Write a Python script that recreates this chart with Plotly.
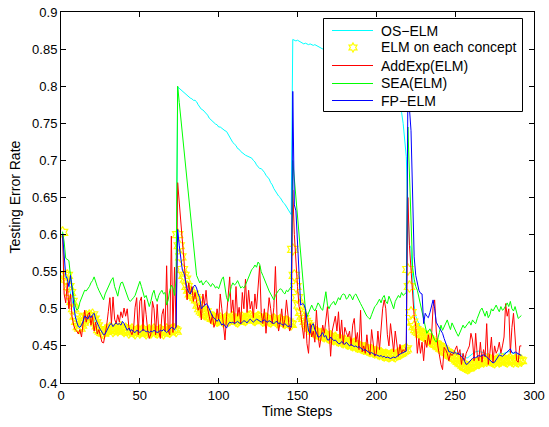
import math
import plotly.graph_objects as go

# concept start steps
concept_starts = [1, 74, 147, 220]

# OS-ELM (cyan)
os_elm_c1 = [0.602, 0.548, 0.541, 0.543, 0.531, 0.520, 0.511, 0.501, 0.491, 0.482,
             0.477, 0.475, 0.479, 0.483, 0.487, 0.489, 0.488, 0.490, 0.488, 0.491,
             0.485, 0.480, 0.476, 0.473, 0.471, 0.469, 0.468, 0.469, 0.471, 0.472,
             0.473, 0.472, 0.471, 0.471, 0.473, 0.472, 0.472, 0.474, 0.473, 0.471,
             0.472, 0.470, 0.469, 0.470, 0.471, 0.470, 0.468, 0.469, 0.470, 0.469,
             0.470, 0.471, 0.470, 0.468, 0.469, 0.470, 0.469, 0.470, 0.471, 0.470,
             0.469, 0.470, 0.470, 0.469, 0.468, 0.469, 0.471, 0.470, 0.470, 0.471,
             0.472, 0.471, 0.471]
os_elm_c2 = [0.799, 0.797, 0.795, 0.794, 0.791, 0.789, 0.788, 0.785, 0.784, 0.783,
             0.781, 0.781, 0.779, 0.775, 0.771, 0.769, 0.768, 0.766, 0.763, 0.761,
             0.757, 0.755, 0.752, 0.751, 0.749, 0.748, 0.745, 0.745, 0.743, 0.742,
             0.740, 0.739, 0.735, 0.731, 0.727, 0.724, 0.722, 0.720, 0.716, 0.715,
             0.712, 0.710, 0.709, 0.707, 0.706, 0.705, 0.705, 0.703, 0.700, 0.698,
             0.694, 0.692, 0.689, 0.689, 0.687, 0.684, 0.680, 0.677, 0.675, 0.670,
             0.667, 0.662, 0.658, 0.656, 0.652, 0.650, 0.646, 0.643, 0.641, 0.637,
             0.634, 0.630, 0.627]
os_elm_c3 = [0.863, 0.862, 0.861, 0.862, 0.861, 0.860, 0.858, 0.857, 0.858, 0.857,
             0.856, 0.857, 0.856, 0.855, 0.856, 0.855, 0.853, 0.852, 0.851, 0.850,
             0.849, 0.847, 0.846, 0.845, 0.843, 0.842, 0.840, 0.839, 0.838, 0.836,
             0.835, 0.833, 0.832, 0.830, 0.829, 0.828, 0.826, 0.825, 0.823, 0.822,
             0.820, 0.819, 0.817, 0.816, 0.814, 0.813, 0.811, 0.810, 0.808, 0.807,
             0.805, 0.804, 0.802, 0.801, 0.799, 0.798, 0.796, 0.795, 0.793, 0.792,
             0.790, 0.789, 0.787, 0.786, 0.784, 0.782, 0.780, 0.777, 0.772, 0.765,
             0.750, 0.730, 0.705]
os_elm_c4 = [0.640, 0.586, 0.582, 0.540, 0.505, 0.490, 0.485, 0.480, 0.476, 0.470,
             0.470, 0.466, 0.465, 0.463, 0.462, 0.461, 0.460, 0.458, 0.456, 0.455,
             0.453, 0.451, 0.450, 0.448, 0.446, 0.445, 0.444, 0.444, 0.445, 0.443,
             0.442, 0.441, 0.441, 0.440, 0.439, 0.438, 0.436, 0.434, 0.434, 0.436,
             0.438, 0.440, 0.441, 0.442, 0.443, 0.443, 0.442, 0.442, 0.441, 0.440,
             0.439, 0.437, 0.436, 0.435, 0.434, 0.434, 0.436, 0.438, 0.440, 0.440,
             0.439, 0.440, 0.441, 0.442, 0.443, 0.443, 0.441, 0.440, 0.440, 0.439,
             0.439, 0.438, 0.438]

# ELM on each concept (yellow stars)
elm_c1 = [0.603, 0.545, 0.540, 0.545, 0.530, 0.522, 0.510, 0.500, 0.490, 0.483,
          0.476, 0.474, 0.478, 0.482, 0.488, 0.490, 0.487, 0.491, 0.489, 0.492,
          0.486, 0.481, 0.477, 0.472, 0.470, 0.468, 0.467, 0.470, 0.472, 0.471,
          0.474, 0.473, 0.470, 0.472, 0.474, 0.471, 0.473, 0.475, 0.472, 0.470,
          0.473, 0.471, 0.468, 0.470, 0.472, 0.469, 0.467, 0.470, 0.471, 0.468,
          0.470, 0.472, 0.469, 0.467, 0.469, 0.471, 0.468, 0.470, 0.472, 0.469,
          0.468, 0.470, 0.471, 0.469, 0.467, 0.470, 0.472, 0.470, 0.469, 0.471,
          0.473, 0.472, 0.470]
elm_c2 = [0.600, 0.585, 0.570, 0.553, 0.545, 0.540, 0.530, 0.525, 0.520, 0.518,
          0.520, 0.515, 0.512, 0.505, 0.500, 0.497, 0.495, 0.493, 0.496, 0.492,
          0.490, 0.489, 0.487, 0.488, 0.486, 0.484, 0.485, 0.487, 0.485, 0.483,
          0.486, 0.488, 0.484, 0.485, 0.487, 0.489, 0.486, 0.484, 0.483, 0.485,
          0.487, 0.488, 0.486, 0.485, 0.487, 0.489, 0.490, 0.488, 0.486, 0.485,
          0.487, 0.489, 0.488, 0.486, 0.484, 0.485, 0.487, 0.486, 0.484, 0.483,
          0.485, 0.486, 0.484, 0.482, 0.483, 0.485, 0.484, 0.482, 0.481, 0.483,
          0.482, 0.480, 0.479]
elm_c3 = [0.580, 0.545, 0.530, 0.515, 0.505, 0.495, 0.490, 0.487, 0.483, 0.480,
          0.477, 0.474, 0.472, 0.470, 0.469, 0.467, 0.466, 0.465, 0.466, 0.464,
          0.463, 0.465, 0.462, 0.461, 0.463, 0.460, 0.459, 0.461, 0.458, 0.457,
          0.459, 0.456, 0.455, 0.457, 0.454, 0.453, 0.455, 0.452, 0.451, 0.453,
          0.450, 0.449, 0.450, 0.448, 0.447, 0.446, 0.447, 0.445, 0.444, 0.443,
          0.444, 0.442, 0.441, 0.442, 0.440, 0.439, 0.440, 0.438, 0.437, 0.438,
          0.437, 0.436, 0.437, 0.438, 0.437, 0.436, 0.438, 0.439, 0.440, 0.441,
          0.443, 0.444, 0.446]
elm_c4 = [0.553, 0.530, 0.495, 0.482, 0.476, 0.472, 0.470, 0.468, 0.466, 0.465,
          0.466, 0.463, 0.462, 0.460, 0.458, 0.456, 0.455, 0.453, 0.452, 0.450,
          0.449, 0.447, 0.446, 0.444, 0.442, 0.441, 0.439, 0.437, 0.436, 0.434,
          0.433, 0.431, 0.429, 0.427, 0.426, 0.424, 0.422, 0.421, 0.420, 0.421,
          0.423, 0.425, 0.424, 0.426, 0.428, 0.427, 0.429, 0.430, 0.429, 0.431,
          0.430, 0.432, 0.431, 0.430, 0.429, 0.428, 0.430, 0.431, 0.429, 0.430,
          0.432, 0.431, 0.430, 0.429, 0.431, 0.432, 0.430, 0.429, 0.431, 0.430,
          0.429, 0.431, 0.430]

# AddExp(ELM) (red)
addexp_c1 = [0.600, 0.520, 0.508, 0.535, 0.500, 0.520, 0.490, 0.478, 0.472, 0.470,
             0.466, 0.472, 0.462, 0.480, 0.498, 0.482, 0.492, 0.495, 0.478, 0.490,
             0.470, 0.482, 0.466, 0.472, 0.462, 0.455, 0.454, 0.466, 0.478, 0.496,
             0.515, 0.480, 0.516, 0.486, 0.480, 0.492, 0.482, 0.496, 0.488, 0.501,
             0.490, 0.500, 0.476, 0.470, 0.465, 0.472, 0.502, 0.515, 0.465, 0.510,
             0.516, 0.470, 0.512, 0.492, 0.470, 0.460, 0.466, 0.510, 0.500, 0.465,
             0.506, 0.470, 0.460, 0.492, 0.500, 0.470, 0.558, 0.470, 0.465, 0.598,
             0.468, 0.556, 0.475]
addexp_c2 = [0.670, 0.645, 0.620, 0.590, 0.570, 0.548, 0.512, 0.535, 0.520, 0.530,
             0.510, 0.522, 0.510, 0.498, 0.505, 0.485, 0.520, 0.505, 0.525, 0.500,
             0.490, 0.480, 0.492, 0.475, 0.482, 0.500, 0.485, 0.520, 0.500, 0.476,
             0.458, 0.490, 0.520, 0.543, 0.495, 0.512, 0.480, 0.530, 0.490, 0.502,
             0.480, 0.522, 0.500, 0.540, 0.495, 0.525, 0.500, 0.510, 0.488, 0.520,
             0.500, 0.536, 0.558, 0.495, 0.480, 0.500, 0.467, 0.490, 0.515, 0.500,
             0.480, 0.502, 0.557, 0.490, 0.470, 0.482, 0.500, 0.475, 0.486, 0.512,
             0.490, 0.470, 0.476]
addexp_c3 = [0.660, 0.600, 0.560, 0.530, 0.503, 0.495, 0.476, 0.460, 0.495, 0.453,
             0.440, 0.480, 0.462, 0.470, 0.455, 0.498, 0.465, 0.448, 0.462, 0.478,
             0.467, 0.485, 0.503, 0.475, 0.436, 0.470, 0.478, 0.490, 0.470, 0.496,
             0.460, 0.485, 0.452, 0.475, 0.468, 0.462, 0.470, 0.450, 0.478, 0.487,
             0.455, 0.468, 0.445, 0.498, 0.442, 0.450, 0.440, 0.465, 0.445, 0.438,
             0.472, 0.455, 0.436, 0.440, 0.470, 0.445, 0.480, 0.500, 0.512, 0.500,
             0.465, 0.450, 0.480, 0.460, 0.442, 0.470, 0.448, 0.436, 0.452, 0.440,
             0.445, 0.442, 0.450]
addexp_c4 = [0.650, 0.585, 0.555, 0.512, 0.490, 0.476, 0.440, 0.460, 0.440, 0.455,
             0.430, 0.458, 0.448, 0.465, 0.452, 0.462, 0.503, 0.512, 0.470, 0.450,
             0.435, 0.425, 0.418, 0.448, 0.445, 0.440, 0.430, 0.440, 0.437, 0.440,
             0.445, 0.450, 0.438, 0.445, 0.425, 0.440, 0.430, 0.440, 0.445, 0.450,
             0.467, 0.458, 0.430, 0.467, 0.438, 0.430, 0.455, 0.428, 0.445, 0.435,
             0.480, 0.425, 0.440, 0.462, 0.428, 0.450, 0.440, 0.445, 0.455, 0.440,
             0.450, 0.462, 0.507, 0.490, 0.500, 0.440, 0.475, 0.494, 0.462, 0.430,
             0.428, 0.450, 0.450]

# SEA(ELM) (green)
sea_c1 = [0.604, 0.590, 0.568, 0.566, 0.565, 0.545, 0.530, 0.515, 0.505, 0.498,
          0.500, 0.509, 0.515, 0.520, 0.525, 0.524, 0.527, 0.530, 0.535, 0.538,
          0.543, 0.535, 0.530, 0.525, 0.520, 0.515, 0.512, 0.520, 0.525, 0.530,
          0.533, 0.539, 0.542, 0.530, 0.524, 0.517, 0.528, 0.535, 0.536, 0.530,
          0.525, 0.518, 0.512, 0.510, 0.512, 0.515, 0.518, 0.525, 0.530, 0.537,
          0.530, 0.522, 0.515, 0.518, 0.510, 0.503, 0.510, 0.520, 0.525, 0.515,
          0.510, 0.518, 0.522, 0.525, 0.520, 0.522, 0.505, 0.512, 0.525, 0.532,
          0.528, 0.518, 0.540]
sea_c2 = [0.800, 0.778, 0.756, 0.734, 0.712, 0.690, 0.668, 0.646, 0.625, 0.603,
          0.582, 0.560, 0.545, 0.540, 0.535, 0.538, 0.532, 0.535, 0.538, 0.536,
          0.533, 0.530, 0.534, 0.532, 0.528, 0.530, 0.527, 0.535, 0.540, 0.543,
          0.530, 0.515, 0.510, 0.520, 0.530, 0.535, 0.532, 0.534, 0.538, 0.533,
          0.528, 0.530, 0.528, 0.532, 0.538, 0.543, 0.548, 0.553, 0.555, 0.559,
          0.556, 0.563, 0.560, 0.550, 0.545, 0.539, 0.533, 0.528, 0.524, 0.520,
          0.516, 0.512, 0.518, 0.522, 0.525, 0.527, 0.526, 0.522, 0.520, 0.525,
          0.523, 0.527, 0.530]
sea_c3 = [0.700, 0.675, 0.650, 0.625, 0.600, 0.575, 0.550, 0.525, 0.500, 0.489,
          0.495, 0.500, 0.505, 0.500, 0.497, 0.502, 0.508, 0.505, 0.500, 0.498,
          0.510, 0.523, 0.505, 0.500, 0.505, 0.508, 0.510, 0.505, 0.510, 0.515,
          0.512, 0.518, 0.520, 0.519, 0.513, 0.515, 0.520, 0.517, 0.512, 0.518,
          0.520, 0.515, 0.510, 0.507, 0.503, 0.498, 0.494, 0.490, 0.488, 0.486,
          0.492, 0.498, 0.503, 0.505, 0.510, 0.513, 0.508, 0.515, 0.518, 0.510,
          0.507, 0.517, 0.512, 0.505, 0.500, 0.510, 0.514, 0.518, 0.515, 0.522,
          0.518, 0.520, 0.522]
sea_c4 = [0.745, 0.680, 0.600, 0.556, 0.540, 0.530, 0.525, 0.515, 0.505, 0.495,
          0.485, 0.475, 0.467, 0.470, 0.473, 0.468, 0.462, 0.458, 0.455, 0.460,
          0.468, 0.478, 0.471, 0.475, 0.480, 0.485, 0.478, 0.472, 0.481, 0.476,
          0.470, 0.467, 0.463, 0.468, 0.472, 0.478, 0.474, 0.477, 0.480, 0.483,
          0.478, 0.485, 0.482, 0.480, 0.487, 0.494, 0.498, 0.501, 0.495, 0.490,
          0.497, 0.488, 0.492, 0.500, 0.497, 0.502, 0.505, 0.500, 0.496, 0.503,
          0.498, 0.500, 0.505, 0.508, 0.503, 0.510, 0.500, 0.497, 0.503, 0.495,
          0.487, 0.489, 0.491]

# FP-ELM (blue)
fpelm_c1 = [0.600, 0.575, 0.545, 0.540, 0.530, 0.545, 0.525, 0.505, 0.490, 0.482,
            0.476, 0.475, 0.478, 0.483, 0.490, 0.489, 0.486, 0.491, 0.488, 0.492,
            0.494, 0.486, 0.480, 0.476, 0.472, 0.468, 0.465, 0.466, 0.470, 0.474,
            0.479, 0.480, 0.476, 0.479, 0.481, 0.479, 0.480, 0.478, 0.483, 0.480,
            0.476, 0.471, 0.474, 0.470, 0.472, 0.469, 0.468, 0.471, 0.470, 0.468,
            0.470, 0.472, 0.471, 0.469, 0.470, 0.468, 0.470, 0.469, 0.471, 0.470,
            0.468, 0.469, 0.471, 0.470, 0.472, 0.470, 0.468, 0.470, 0.473, 0.475,
            0.474, 0.472, 0.476]
fpelm_c2 = [0.607, 0.585, 0.566, 0.552, 0.548, 0.535, 0.527, 0.522, 0.520, 0.525,
            0.530, 0.532, 0.528, 0.520, 0.515, 0.500, 0.503, 0.504, 0.507, 0.505,
            0.500, 0.495, 0.490, 0.488, 0.485, 0.483, 0.486, 0.482, 0.478, 0.480,
            0.476, 0.474, 0.479, 0.482, 0.481, 0.482, 0.480, 0.481, 0.483, 0.481,
            0.480, 0.482, 0.484, 0.483, 0.481, 0.484, 0.486, 0.484, 0.482, 0.484,
            0.486, 0.485, 0.483, 0.482, 0.484, 0.485, 0.483, 0.482, 0.484, 0.483,
            0.481, 0.480, 0.482, 0.483, 0.480, 0.481, 0.479, 0.478, 0.480, 0.478,
            0.476, 0.477, 0.475]
fpelm_c3 = [0.793, 0.640, 0.632, 0.590, 0.540, 0.505, 0.507, 0.506, 0.500, 0.485,
            0.470, 0.467, 0.478, 0.480, 0.472, 0.468, 0.462, 0.462, 0.466, 0.468,
            0.462, 0.464, 0.458, 0.458, 0.462, 0.460, 0.457, 0.458, 0.455, 0.453,
            0.453, 0.456, 0.454, 0.452, 0.455, 0.453, 0.450, 0.452, 0.451, 0.449,
            0.450, 0.448, 0.449, 0.447, 0.446, 0.444, 0.445, 0.443, 0.441, 0.440,
            0.441, 0.439, 0.438, 0.438, 0.437, 0.436, 0.437, 0.435, 0.436, 0.434,
            0.435, 0.434, 0.433, 0.434, 0.435, 0.434, 0.436, 0.437, 0.439, 0.440,
            0.441, 0.442, 0.443]
fpelm_c4 = [0.790, 0.770, 0.740, 0.650, 0.570, 0.545, 0.535, 0.525, 0.521, 0.520,
            0.480, 0.494, 0.490, 0.488, 0.495, 0.505, 0.512, 0.500, 0.482, 0.478,
            0.474, 0.470, 0.467, 0.460, 0.453, 0.447, 0.442, 0.442, 0.441, 0.440,
            0.441, 0.439, 0.440, 0.438, 0.436, 0.434, 0.429, 0.425, 0.426, 0.429,
            0.431, 0.433, 0.435, 0.434, 0.436, 0.437, 0.436, 0.437, 0.438, 0.437,
            0.435, 0.432, 0.430, 0.428, 0.427, 0.428, 0.432, 0.436, 0.438, 0.437,
            0.436, 0.438, 0.440, 0.443, 0.445, 0.446, 0.441, 0.440, 0.442, 0.441,
            0.440, 0.438, 0.437]

x_ticks = [0, 50, 100, 150, 200, 250, 300]
y_ticks = [0.4, 0.45, 0.5, 0.55, 0.6, 0.65, 0.7, 0.75, 0.8, 0.85, 0.9]
y_tick_labels = ["0.4", "0.45", "0.5", "0.55", "0.6", "0.65", "0.7", "0.75", "0.8", "0.85", "0.9"]

legend_names = ["OS\u2212ELM", "ELM on each concept", "AddExp(ELM)", "SEA(ELM)", "FP\u2212ELM"]
colors = ["rgb(0,255,255)", "rgb(255,255,0)", "rgb(255,0,0)", "rgb(0,255,0)", "rgb(0,0,255)"]
modes = ["lines", "markers", "lines", "lines", "lines"]
all_parts = [
    [os_elm_c1, os_elm_c2, os_elm_c3, os_elm_c4],
    [elm_c1, elm_c2, elm_c3, elm_c4],
    [addexp_c1, addexp_c2, addexp_c3, addexp_c4],
    [sea_c1, sea_c2, sea_c3, sea_c4],
    [fpelm_c1, fpelm_c2, fpelm_c3, fpelm_c4],
]

# ---- geometry (pixels) ----
W, H = 549, 427
L, R, T, B = 61, 15, 12, 44
PW, PH = W - L - R, H - T - B


def pxx(px):
    return (px - L) / PW


def pxy(py):
    return (H - B - py) / PH


def build(parts):
    xs, ys = [], []
    for start, vals in zip(concept_starts, parts):
        xs.extend(range(start, start + len(vals)))
        ys.extend(vals)
    return xs, ys


fig = go.Figure()
for name, parts, color, mode in zip(legend_names, all_parts, colors, modes):
    xs, ys = build(parts)
    if mode == "lines":
        fig.add_trace(go.Scatter(x=xs, y=ys, mode="lines", name=name, showlegend=False,
                                 line=dict(color=color, width=1)))
    else:
        fig.add_trace(go.Scatter(x=xs, y=ys, mode="markers", name=name, showlegend=False,
                                 marker=dict(symbol="hexagram-open", size=9,
                                             color=color, line=dict(width=1.2, color=color))))

font_family = "Liberation Sans, Arial, Helvetica, sans-serif"

# ---- manual legend (opaque box above the data, MATLAB style) ----
shapes = []
annotations = []
box_l, box_r, box_t, box_b = 323.5, 522.5, 18.5, 111.5
shapes.append(dict(type="rect", xref="paper", yref="paper",
                   x0=pxx(box_l), x1=pxx(box_r), y0=pxy(box_b), y1=pxy(box_t),
                   fillcolor="white", line=dict(color="black", width=1), layer="above"))
row_y = [30.5, 47.5, 65.5, 83.5, 100.5]
for name, color, mode, ry in zip(legend_names, colors, modes, row_y):
    if mode == "lines":
        shapes.append(dict(type="line", xref="paper", yref="paper",
                           x0=pxx(332), x1=pxx(373), y0=pxy(ry), y1=pxy(ry),
                           line=dict(color=color, width=1.2), layer="above"))
    else:
        ro, ri = 4.6, 4.6 / math.sqrt(3)
        pts = []
        for k in range(12):
            ang = math.radians(90 + 30 * k)
            rr = ro if k % 2 == 0 else ri
            pts.append((rr * math.cos(ang), rr * math.sin(ang)))
        path = "M" + " L".join(f"{a:.2f},{b:.2f}" for a, b in pts) + " Z"
        shapes.append(dict(type="path", xref="paper", yref="paper",
                           xsizemode="pixel", ysizemode="pixel",
                           xanchor=pxx(353), yanchor=pxy(ry), path=path,
                           fillcolor="rgba(0,0,0,0)",
                           line=dict(color=color, width=1.2), layer="above"))
    annotations.append(dict(text=name, xref="paper", yref="paper",
                            x=pxx(379), y=pxy(ry), xanchor="left", yanchor="middle",
                            showarrow=False, font=dict(size=14, color="black",
                                                       family=font_family)))

# axis titles
annotations.append(dict(text="Time Steps", xref="paper", yref="paper",
                        x=pxx(297), y=pxy(411), xanchor="center", yanchor="middle",
                        showarrow=False, font=dict(size=14, color="black", family=font_family)))
annotations.append(dict(text="Testing Error Rate", xref="paper", yref="paper",
                        x=pxx(14), y=0.5, xanchor="center", yanchor="middle", textangle=-90,
                        showarrow=False, font=dict(size=14, color="black", family=font_family)))

fig.update_layout(
    width=W, height=H,
    margin=dict(l=L, r=R, t=T, b=B),
    paper_bgcolor="white", plot_bgcolor="white",
    font=dict(family=font_family, size=13, color="black"),
    showlegend=False,
    shapes=shapes,
    annotations=annotations,
    xaxis=dict(range=[0, 300], tickvals=x_ticks, ticktext=[str(v) for v in x_ticks],
               showgrid=False, zeroline=False, showline=True, linecolor="black",
               linewidth=1, mirror="ticks", ticks="inside", ticklen=5,
               tickcolor="black", automargin=False),
    yaxis=dict(range=[0.4, 0.9], tickvals=y_ticks, ticktext=y_tick_labels,
               showgrid=False, zeroline=False, showline=True, linecolor="black",
               linewidth=1, mirror="ticks", ticks="inside", ticklen=5,
               tickcolor="black", automargin=False),
)

fig.write_html("out.html", config={"displayModeBar": False},
               post_script="document.body.style.margin='0px';document.body.style.padding='0px';")
